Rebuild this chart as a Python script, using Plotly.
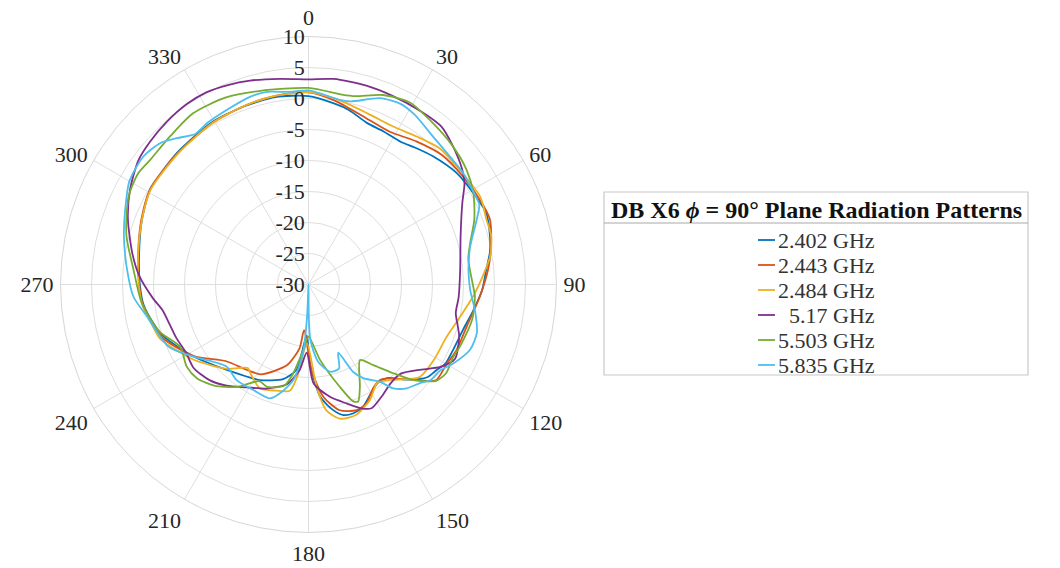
import plotly.graph_objects as go

# Measured gain (dB) versus angle (deg) for each frequency
theta_2402 = [0, 8, 13, 20, 26, 33, 38, 44, 53, 61, 68, 75, 80, 85, 92, 99, 106, 114, 120, 124, 128, 134,
              140, 145, 150, 156, 161, 165, 169, 174, 179, 182, 188, 195, 207, 214, 224, 238, 245, 251, 256,
              263, 270, 280, 291, 301, 308, 315, 329, 340, 350, 360]
r_2402 = [0.4, -0.5, -1.1, -2.3, -2.5, -2.6, -2.0, -1.2, -0.1, 0.4, 0.9, 0.3, -0.3, -1.2, -2.0, -3.1, -4.0,
          -4.4, -4.5, -5.2, -5.7, -7.9, -10.3, -10.6, -9.8, -8.4, -8.0, -8.2, -9.4, -11.8, -17.3, -21.8, -16.1,
          -14.2, -12.7, -12.1, -10.9, -8.1, -6.5, -5.0, -4.2, -3.2, -2.8, -2.25, -1.2, -0.2, -0.2, 0.0, 0.45,
          0.55, 0.7, 0.4]

theta_2443 = [0, 8, 19, 28, 37, 46, 55, 64, 70, 78, 85, 94, 105, 114, 120, 127, 132, 139, 143, 148, 154, 159,
              166, 172.5, 178, 185.5, 188, 195, 208, 216, 227, 238, 250, 256, 263, 270, 280, 291, 301, 315,
              329, 340, 350, 360]
r_2443 = [1.0, 0.0, -1.6, -2.1, -1.1, 0.0, 0.4, 0.85, 1.1, 0.1, -0.9, -2.3, -3.6, -3.9, -4.3, -4.3, -7.1,
          -9.95, -10.75, -10.3, -8.65, -8.3, -9.1, -11.75, -16.2, -22.6, -19.6, -16.5, -13.6, -13.0, -11.85,
          -8.2, -4.9, -4.1, -3.1, -2.7, -2.1, -1.1, -0.2, -0.1, 0.3, 0.6, 0.9, 1.0]

theta_2484 = [0, 8, 19, 28, 36, 44, 53, 63, 70, 75, 81, 87, 94, 102, 111, 121, 130, 139.5, 145, 152, 160,
              167, 172, 175.5, 181.5, 187, 190, 197, 205, 213, 216, 224, 237, 250, 256, 263, 270, 280, 291,
              301, 315, 329, 340, 350, 360]
r_2484 = [1.0, 0.3, -0.8, -1.1, -0.45, 0.5, 0.6, 1.1, 0.55, 0.5, -0.3, -1.8, -3.35, -5.0, -6.2, -6.4, -6.7,
          -9.75, -10.65, -8.9, -7.6, -7.8, -9.55, -13.5, -20.5, -15.0, -12.6, -12.1, -11.5, -12.85, -13.35,
          -11.1, -7.8, -4.5, -3.9, -3.0, -2.6, -2.1, -1.2, -0.3, -0.2, 0.3, 0.6, 0.9, 1.0]

theta_5170 = [0, 7, 16, 24, 32, 40, 46, 53, 57, 62, 72, 85, 95, 101, 109, 117, 122, 127, 134, 140, 147, 153,
              157, 162, 169, 177, 181.5, 186, 192, 202, 211, 219, 226, 234, 241, 248, 254, 260, 265, 273, 280,
              290, 298, 306, 312, 319, 326, 332, 338, 344, 352, 360]
r_5170 = [3.1, 3.4, 3.4, 3.3, 3.3, 3.3, 2.3, 1.0, 0.0, -1.9, -4.2, -5.45, -5.7, -5.8, -4.3, -3.5, -4.9, -7.2,
          -9.3, -9.3, -8.4, -7.6, -8.3, -9.8, -11.5, -14.0, -19.0, -16.1, -13.6, -11.9, -10.65, -9.0, -7.8,
          -7.1, -7.4, -7.0, -6.7, -6.1, -4.8, -2.65, -1.15, 1.0, 2.6, 3.95, 4.4, 4.8, 5.1, 5.1, 4.7, 4.2,
          3.5, 3.1]

theta_5503 = [0, 10, 14, 21.5, 29, 36, 46, 54, 61, 68.7, 75.7, 81, 91, 94, 102, 112, 117, 122.7, 127, 132.3,
              136.3, 141.2, 145.7, 153.3, 157, 159, 163, 171.3, 180, 184.5, 189.7, 193.5, 202, 207, 215, 223,
              230, 236, 244, 252, 256, 264, 275, 285, 296, 303, 308, 317, 326, 336, 346, 360]
r_5503 = [1.7, 1.1, 1.3, 2.85, 3.6, 3.0, 2.25, 1.5, 0.4, -1.3, -3.1, -3.9, -3.4, -3.1, -3.0, -3.6, -3.9,
          -3.6, -4.2, -7.1, -10.2, -13.3, -15.25, -11.55, -9.5, -9.8, -12.75, -17.7, -21.6, -19.4, -15.5,
          -13.2, -12.2, -12.5, -9.85, -7.7, -6.5, -6.3, -7.0, -4.9, -4.2, -2.9, -1.65, 0.4, 2.3, 2.8, 2.5,
          2.7, 3.3, 3.0, 2.2, 1.7]

theta_5835 = [0, 10, 13, 21, 27, 32, 40, 48, 54, 61, 65, 69, 77, 85, 92, 99, 106, 112, 118.6, 123, 128,
              131.5, 136.6, 140.8, 143.7, 149.7, 153, 156.5, 160, 166, 173, 178, 179.5, 181, 182.5, 184.5,
              189, 194.7, 198.7, 207.6, 216.9, 224.9, 237.9, 246, 259, 266, 275, 284.5, 292, 300, 307.7,
              313.6, 318, 323, 328, 335, 342.7, 347.8, 354.5, 360]
r_5835 = [1.3, 0.2, 0.3, 2.2, 2.7, 2.3, 1.2, 0.75, 0.75, 0.5, 0.4, -0.95, -3.25, -4.1, -3.9, -2.8, -1.75,
          -1.9, -3.4, -4.6, -5.0, -6.0, -6.95, -8.4, -10.5, -12.5, -14.2, -18.0, -15.6, -15.5, -17.5, -21.0,
          -25.0, -33.7, -25.0, -19.0, -14.4, -11.85, -10.6, -10.8, -10.7, -11.3, -8.1, -5.3, -3.4, -1.7,
          -0.6, 0.75, 1.9, 3.35, 3.7, 3.05, 1.75, 0.4, 0.75, 1.1, 1.7, 1.8, 1.2, 1.3]

series_names = ["2.402 GHz", "2.443 GHz", "2.484 GHz", "\u2005 5.17 GHz", "5.503 GHz", "5.835 GHz"]
series_colors = ["#0072BD", "#D95319", "#EDB120", "#7E2F8E", "#77AC30", "#4DBEEE"]
series_theta = [theta_2402, theta_2443, theta_2484, theta_5170, theta_5503, theta_5835]
series_r = [r_2402, r_2443, r_2484, r_5170, r_5503, r_5835]

angle_ticks = list(range(0, 360, 30))
radial_ticks = list(range(-30, 11, 5))

legend_title = "<b>DB X6 <i>ϕ</i> = 90° Plane Radiation Patterns</b>"

SERIF = "Liberation Serif, Times New Roman, serif"
W, H = 1060, 568


def px(x):
    return x / W


def py(y):
    return 1 - y / H


fig = go.Figure()
for name, color, th, rr in zip(series_names, series_colors, series_theta, series_r):
    fig.add_trace(go.Scatterpolar(
        theta=th, r=rr, name=name, mode="lines", showlegend=False,
        line=dict(color=color, width=1.8, shape="spline", smoothing=0.7),
    ))

# Boxed legend: title row, separator, then one entry per series
shapes = [
    dict(type="rect", xref="paper", yref="paper",
         x0=px(604), x1=px(1028), y0=py(375), y1=py(192),
         line=dict(color="#c8c8c8", width=1.2), fillcolor="rgba(0,0,0,0)"),
    dict(type="line", xref="paper", yref="paper",
         x0=px(604), x1=px(1028), y0=py(223), y1=py(223),
         line=dict(color="#a8a8a8", width=1)),
]
annotations = [
    dict(xref="paper", yref="paper", x=px(816), y=py(210),
         xanchor="center", yanchor="middle", showarrow=False,
         text=legend_title, font=dict(family=SERIF, size=24, color="#111111")),
]
row_y0, row_dy = 240, 25
for i, (name, color) in enumerate(zip(series_names, series_colors)):
    yrow = row_y0 + i * row_dy
    shapes.append(dict(type="line", xref="paper", yref="paper",
                       x0=px(758), x1=px(775), y0=py(yrow), y1=py(yrow),
                       line=dict(color=color, width=1.8)))
    annotations.append(dict(xref="paper", yref="paper", x=px(776), y=py(yrow),
                            xanchor="left", yanchor="middle", showarrow=False,
                            text=name, font=dict(family=SERIF, size=22, color="#333333")))

fig.update_layout(
    width=W, height=H,
    margin=dict(l=0, r=0, t=0, b=0),
    paper_bgcolor="white",
    showlegend=False,
    polar=dict(
        domain=dict(x=[px(60.5), px(556.5)], y=[py(532.5), py(36.5)]),
        bgcolor="white",
        angularaxis=dict(
            rotation=90, direction="clockwise",
            tickmode="array", tickvals=angle_ticks, ticktext=[str(a) for a in angle_ticks],
            tickfont=dict(family=SERIF, size=22, color="#262626"),
            showgrid=True, gridcolor="#dedede", gridwidth=1,
            showline=True, linecolor="#d6d6d6", linewidth=1,
            ticks="outside", ticklen=2, tickcolor="rgba(0,0,0,0)",
        ),
        radialaxis=dict(
            range=[-30, 10], angle=90, side="counterclockwise",
            tickmode="array", tickvals=radial_ticks, ticktext=[str(v) for v in radial_ticks],
            tickfont=dict(family=SERIF, size=22, color="#262626"),
            showgrid=True, gridcolor="#dedede", gridwidth=1,
            showline=False, ticks="", tickangle=90,
        ),
    ),
    shapes=shapes,
    annotations=annotations,
)

fig.write_html("out.html")
